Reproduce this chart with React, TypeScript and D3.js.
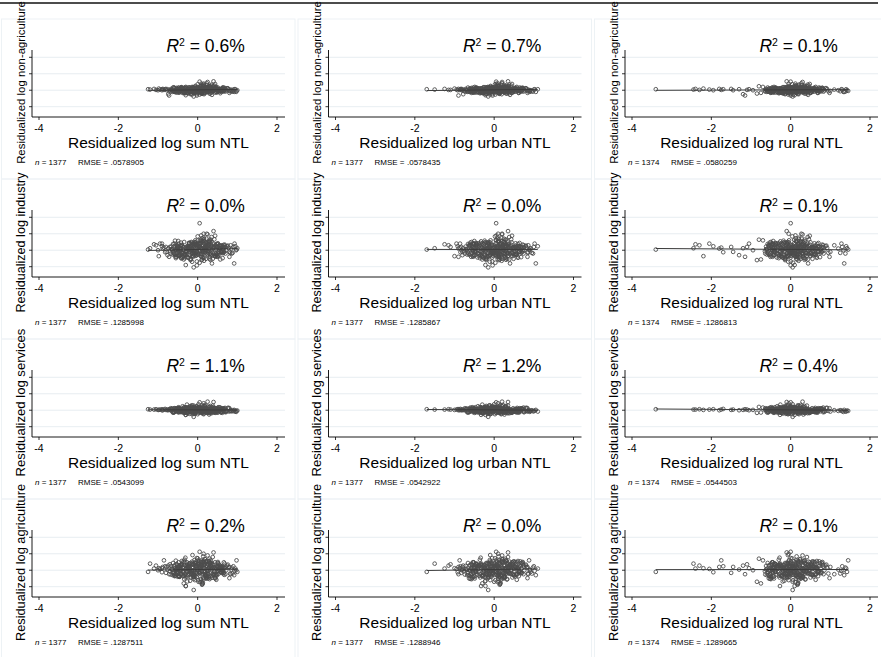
import React from "react";
import * as d3 from "d3";

// axis ticks (y tick labels are suppressed in the original)
const X_TICKS = [-4, -2, 0, 2];
const Y_TICKS = [-0.5, 0, 0.5, 1];

const X_TITLES = ["Residualized log sum NTL", "Residualized log urban NTL", "Residualized log rural NTL"];
const Y_TITLES = [
  "Residualized log non-agriculture",
  "Residualized log industry",
  "Residualized log services",
  "Residualized log agriculture",
];
const Y_TITLE_SIZE = [11.4, 12.6, 13.1, 12.8];

const R2 = [
  ["0.6", "0.7", "0.1"],
  ["0.0", "0.0", "0.1"],
  ["1.1", "1.2", "0.4"],
  ["0.2", "0.0", "0.1"],
];
const N_OBS = [1377, 1377, 1374];
const RMSE = [
  [".0578905", ".0578435", ".0580259"],
  [".1285998", ".1285867", ".1286813"],
  [".0543099", ".0542922", ".0544503"],
  [".1287511", ".1288946", ".1289665"],
];

// residualized regressors (one value per district)
const SUM_NTL = [
  .05,-.12,.21,-.03,.33,-.25,.1,.02,-.18,.27,-.08,.15,-.31,.4,.07,-.14,.24,-.01,.12,-.22,
  .3,-.06,.18,-.36,.09,.01,-.2,.36,-.1,.14,.22,-.28,.04,-.15,.29,.11,-.04,.19,-.33,.08,
  -.24,.25,.0,-.09,.34,.16,-.19,.06,.42,-.13,.2,-.27,.13,-.02,.31,-.16,.09,.23,-.38,.03,
  .17,-.07,.28,-.21,.11,.38,-.11,.05,-.3,.26,.14,-.05,.19,-.17,.35,-.26,.02,.24,-.1,.15,
  .07,-.34,.3,-.02,.2,-.14,.12,.44,-.23,.0,.27,-.08,.16,-.29,.06,.32,-.12,.22,-.04,.1,
  -.45,.52,-.58,.61,-.4,.48,-.66,.7,-.5,.56,-.43,.64,-.62,.46,-.54,.74,-.47,.58,-.7,.5,
  .66,-.41,.54,-.6,.78,-.52,.44,-.65,.6,-.48,.72,-.56,.49,-.44,.68,-.63,.55,-.5,.82,-.42,
  .47,-.68,.62,-.46,.57,-.55,.76,-.61,.51,-.49,.65,-.57,.45,-.64,.7,-.53,.59,-.43,.8,-.67,
  -1.25,-1.2,-1.1,-1.05,-.98,-.95,-.9,-.88,-.85,-.82,-.8,-.78,-.76,-.74,-.72,-.7,-.9,-1.0,
  .85,.88,.9,.92,.95,.98,1.0,.86,.83,.8,.93,.97,
  .05,.1,.3,-.35,.0,.25,-.1,.4,-.3,.15,
  -.52,.33,-.08,.6,-.27,.12,-.44,.45,.0,-.16,.53,-.35,.22,-.6,.38,-.05,.67,-.21,.09,-.48,
  .28,-.13,.5,-.38,.17,-.02,.62,-.3,.06,-.55,.41,-.19,.25,-.42,.14,-.1,.57,-.25,.34,-.47,
  .03,.48,-.33,.2,-.57,.1,.36,-.12,.64,-.4,.26,-.23,.43,-.07,.15,-.5,.31,-.29,.55,-.15,
  .08,-.45,.39,-.18,.59,-.36,.19,-.03,.47,-.24,.11,-.53,.29,-.09,.65,-.31,.23,-.41,.04,.52,
  -.2,.35,-.58,.13,-.06,.44,-.34,.27,-.14,.61,-.43,.18,-.01,.5,-.26,.07,-.49,.37,-.11,.24,
  .58,-.37,.16,-.22,.42,-.04,.3,-.54,.21,-.17,.56,-.28,.01,-.46,.4,-.09,.66,-.32,.12,-.39,
  .32,-.15,.49,-.51,.05,.26,-.24,.63,-.07,.18,-.44,.35,-.3,.1,-.56,.46,-.12,.22,-.36,.54,
  -.02,.4,-.21,.6,-.48,.14,-.1,.33,-.41,.02,.51,-.27,.19,-.59,.29,-.16,.45,-.05,.69,-.33,
];
const URBAN_NTL = [
  .08,-.15,.24,-.01,.3,-.28,.13,.0,-.2,.31,-.05,.18,-.34,.37,.04,-.11,.27,-.03,.15,-.25,
  .33,-.09,.2,-.39,.06,.03,-.17,.4,-.13,.11,.25,-.31,.07,-.18,.26,.14,-.06,.22,-.36,.1,
  -.27,.28,.02,-.07,.36,.19,-.22,.09,.43,-.1,.17,-.3,.16,-.04,.34,-.19,.12,.2,-.41,.05,
  .14,-.1,.31,-.24,.08,.35,-.14,.03,-.33,.29,.11,-.02,.21,-.2,.38,-.23,.0,.27,-.12,.18,
  .04,-.37,.33,-.05,.23,-.16,.15,.45,-.26,.02,.24,-.11,.13,-.32,.09,.3,-.15,.25,-.07,.13,
  -.5,.55,-.62,.64,-.44,.5,-.72,.75,-.54,.6,-.47,.68,-.66,.48,-.58,.8,-.5,.62,-.76,.53,
  .7,-.45,.57,-.64,.82,-.56,.46,-.7,.63,-.52,.76,-.6,.52,-.48,.72,-.68,.58,-.54,.85,-.46,
  .5,-.74,.66,-.5,.6,-.6,.8,-.66,.54,-.53,.69,-.62,.48,-.69,.74,-.57,.63,-.47,.84,-.72,
  -1.7,-1.5,-1.25,-1.15,-1.0,-.95,-.92,-.9,-.87,-.85,-.83,-.8,-.8,-.78,-.9,-1.1,-.86,-.82,
  .9,.95,1.0,1.05,1.1,.88,.92,.98,.86,.84,1.02,.9,
  .05,.12,.28,-.3,.05,.2,-.15,.35,-.22,.1,
  .36,-.5,.14,-.22,.58,-.05,.29,-.63,.45,-.14,.07,-.38,.66,-.27,.2,-.1,.51,-.46,.32,.0,
  -.58,.24,-.17,.62,-.33,.11,.42,-.08,-.52,.3,.17,-.41,.55,-.2,.03,-.6,.38,-.12,.7,-.29,
  .1,-.45,.27,.48,-.24,.06,-.55,.35,-.03,.6,-.36,.19,-.15,.44,-.48,.13,.68,-.31,.22,-.07,
  -.4,.52,-.19,.09,-.62,.39,.01,-.26,.57,-.11,.25,-.53,.47,-.04,.16,-.35,.64,-.21,.31,-.47,
  .05,.41,-.3,.72,-.16,.12,-.57,.34,-.09,.53,-.42,.21,-.02,.6,-.25,.08,-.5,.43,-.13,.28,
  -.37,.19,.55,-.06,.33,-.6,.15,-.28,.49,-.18,.02,.64,-.44,.26,-.1,.38,-.54,.11,-.23,.46,
  .23,-.32,.59,-.12,.04,-.49,.37,-.2,.14,.67,-.39,.09,-.05,.5,-.58,.3,-.15,.42,-.27,.18,
  -.08,.56,-.34,.12,-.43,.27,.74,-.22,.06,-.52,.35,-.01,.62,-.3,.2,-.46,.09,.48,-.17,.39,
];
const RURAL_NTL = [
  .1,-.08,.26,.02,.35,-.2,.16,.05,-.14,.33,-.02,.21,-.28,.42,.09,-.06,.3,.01,.18,-.18,
  .38,-.04,.24,-.32,.12,.06,-.12,.44,-.09,.15,.28,-.24,.08,-.1,.32,.17,-.01,.25,-.3,.13,
  -.22,.31,.04,-.03,.4,.2,-.16,.11,.46,-.07,.23,-.26,.19,.0,.36,-.13,.14,.27,-.34,.07,
  .2,-.05,.34,-.17,.13,.41,-.08,.06,-.27,.3,.17,.01,.24,-.14,.43,-.2,.05,.29,-.06,.19,
  .09,-.3,.37,.0,.26,-.1,.18,.48,-.19,.03,.3,-.04,.2,-.25,.12,.35,-.09,.28,.0,.15,
  -.45,.6,-.55,.7,-.4,.55,-.62,.82,-.5,.64,-.42,.75,-.58,.52,-.48,.88,-.44,.66,-.65,.58,
  .78,-.38,.62,-.56,.92,-.5,.5,-.6,.7,-.46,.85,-.52,.56,-.4,.8,-.6,.63,-.47,.95,-.39,
  .55,-.64,.72,-.43,.66,-.5,.9,-.58,.6,-.45,.76,-.54,.52,-.6,.83,-.48,.68,-.41,.98,-.62,
  -3.4,-2.45,-2.4,-2.3,-2.2,-2.05,-1.95,-1.8,-1.75,-1.7,-1.5,-1.45,-1.3,-1.2,-1.15,-1.1,-1.05,-.95,
  1.2,1.25,1.3,1.35,1.4,1.45,1.42,1.38,1.1,1.0,1.28,1.33,
  .0,-.85,-.8,-.75,-.7,.3,.05,-.1,.1,-.05,
  .4,-.42,.18,-.15,.62,.0,.33,-.55,.5,-.08,.12,-.3,.72,-.2,.25,-.04,.56,-.38,.37,.05,
  -.5,.29,-.1,.68,-.26,.16,.47,-.02,-.45,.35,.22,-.33,.6,-.14,.08,-.52,.43,-.06,.78,-.22,
  .15,-.38,.32,.54,-.18,.11,-.48,.4,.02,.66,-.29,.24,-.09,.5,-.41,.18,.74,-.24,.27,-.01,
  -.33,.58,-.13,.14,-.56,.45,.06,-.2,.63,-.05,.3,-.46,.53,.01,.21,-.28,.7,-.15,.36,-.4,
  .1,.46,-.23,.8,-.1,.17,-.5,.39,-.03,.59,-.35,.26,.03,.67,-.19,.13,-.44,.49,-.07,.33,
  -.3,.24,.61,.0,.38,-.53,.2,-.22,.55,-.12,.07,.71,-.37,.31,-.04,.44,-.47,.16,-.17,.52,
  .28,-.26,.65,-.06,.09,-.42,.42,-.14,.19,.75,-.32,.14,.01,.57,-.51,.35,-.09,.48,-.21,.23,
  -.02,.62,-.28,.17,-.36,.32,.82,-.16,.11,-.45,.4,.04,.69,-.24,.25,-.39,.14,.54,-.11,.45,
];

// residualized outcomes, same districts
const NON_AGRI = [
  .04,-.07,.1,-.03,.14,-.09,.01,.08,-.12,.05,-.04,.17,-.08,.12,.0,-.13,.06,.03,-.05,.09,
  -.1,.13,-.01,.05,.2,-.06,.03,-.14,.08,.0,.16,-.08,.04,-.04,.1,-.11,.06,.01,-.09,.13,
  .03,-.05,.18,-.03,.08,-.12,.04,.0,.14,-.06,.09,-.01,.05,-.16,.12,.03,-.08,.21,-.04,.06,
  -.09,.1,.01,-.05,.15,-.03,.08,-.13,.04,.0,.12,-.07,.05,-.1,.17,.01,-.04,.09,-.08,.03,
  .13,-.05,.06,-.12,.0,.1,-.03,.19,-.09,.04,.08,-.07,.14,-.01,.05,-.1,.09,.0,-.04,.12,
  .03,-.04,.05,-.02,.07,-.05,.01,.04,-.07,.02,.0,-.03,.08,-.04,.01,.06,-.06,.03,-.01,.04,
  -.03,.07,.0,-.04,.03,.05,-.07,.01,-.03,.08,.0,-.04,.04,-.01,.07,-.05,.03,.0,-.03,.05,
  .01,-.04,.04,-.07,.03,.0,.06,-.03,.08,-.01,.01,-.05,.04,.0,-.04,.07,-.01,.03,-.08,.04,
  .03,.02,.04,.01,.05,.02,.0,.04,.01,.03,.04,.0,.03,-.12,-.16,.01,.03,.0,
  .0,-.03,.02,-.05,.03,-.02,.0,-.04,.02,-.02,.03,-.05,
  .26,-.1,.12,-.08,.1,.25,-.19,.27,-.15,.2,
  .02,-.03,.06,-.05,.01,.08,-.02,.04,-.07,.03,.0,.05,-.04,.09,-.01,-.06,.03,.07,-.03,.01,
  -.05,.04,.02,-.08,.06,-.01,.03,.1,-.04,.0,.05,-.06,.02,.07,-.03,.04,-.09,.01,.06,-.02,
  .03,-.07,.08,.0,-.04,.05,.01,-.05,.09,-.02,.04,-.03,.06,-.08,.02,.0,.07,-.04,.03,-.01,
  -.06,.05,-.02,.08,.01,-.05,.04,-.03,.1,.0,-.07,.03,.05,-.02,.06,-.04,.01,.09,-.06,.02,
  .04,-.01,-.05,.07,.0,.03,-.08,.05,-.03,.06,.01,-.04,.08,-.02,.02,-.06,.04,.0,.07,-.05,
  -.02,.06,.03,-.04,.09,-.01,.05,-.07,.02,.04,-.03,.08,.0,-.05,.03,.06,-.02,.01,-.09,.05,
  .07,-.03,.01,.04,-.06,.1,-.01,.03,-.04,.05,.02,-.07,.06,.0,-.02,.08,-.05,.03,.04,-.03,
  .0,.05,-.06,.02,.07,-.04,.03,-.01,.09,-.05,.04,.01,-.08,.06,-.02,.03,.05,-.03,.0,.07,
];
const INDUSTRY = [
  .1,-.18,.25,-.05,.32,-.22,.04,.15,-.3,.12,-.08,.38,-.15,.2,-.02,-.35,.14,.06,-.12,.22,
  -.26,.3,-.04,.1,.45,-.14,.05,-.4,.18,.0,.35,-.2,.08,-.1,.24,-.28,.16,.02,-.24,.28,
  .06,-.12,.42,-.06,.17,-.32,.09,-.01,.33,-.16,.21,-.03,.12,-.46,.27,.04,-.2,.5,-.09,.13,
  -.22,.24,.03,-.13,.36,-.07,.19,-.38,.08,-.02,.29,-.17,.11,-.27,.4,.02,-.1,.2,-.19,.07,
  .31,-.12,.15,-.34,.0,.23,-.06,.44,-.23,.09,.18,-.15,.34,-.04,.12,-.29,.21,.01,-.09,.26,
  .06,-.1,.13,-.04,.16,-.13,.03,.1,-.16,.05,.0,-.07,.19,-.1,.03,.12,-.14,.07,-.03,.1,
  -.06,.15,.01,-.11,.07,.13,-.18,.04,-.06,.2,.0,-.1,.09,-.03,.17,-.13,.06,.01,-.08,.12,
  .03,-.1,.1,-.17,.06,.0,.14,-.07,.21,-.02,.04,-.14,.09,.01,-.1,.16,-.04,.07,-.2,.11,
  .02,.06,.18,.15,-.18,.2,.12,.05,.08,-.06,.1,-.05,-.15,.06,-.2,.1,.2,.0,
  .05,-.08,.1,-.4,.12,.02,.06,-.1,.15,-.05,.2,.0,
  .82,-.3,.32,-.28,.3,.48,-.52,.58,-.45,.5,
  .08,-.14,.2,-.06,.12,-.22,.03,.16,-.1,.25,-.02,-.18,.1,.05,-.26,.14,-.04,.22,-.12,.0,
  .18,-.08,-.2,.12,.27,-.15,.04,-.05,.2,-.24,.09,.01,-.13,.23,-.07,.15,-.28,.06,.1,-.17,
  -.03,.19,-.11,.07,.29,-.19,.02,.13,-.09,-.23,.17,.04,-.16,.24,-.05,.11,-.21,.08,.15,-.01,
  .21,-.12,.06,-.27,.14,.0,-.07,.18,-.14,.1,.26,-.2,.03,-.1,.16,-.04,.22,-.25,.09,-.06,
  -.15,.12,.2,-.03,.07,-.18,.25,-.09,.02,.14,-.22,.11,-.05,.19,-.13,.06,.28,-.16,.0,.1,
  .13,-.21,.05,.17,-.08,.23,-.11,.01,-.26,.15,.08,-.04,.2,-.17,.12,-.02,.09,-.14,.24,-.07,
  -.1,.16,-.19,.04,.21,-.06,.11,-.24,.18,.0,-.12,.26,-.03,.07,-.2,.13,-.09,.17,.02,-.15,
  .06,-.13,.22,-.05,.1,-.23,.15,.03,-.08,.19,-.17,.05,.12,-.1,.27,-.01,-.19,.08,.14,-.11,
];
const SERVICES = [
  -.03,.06,-.08,.11,.02,-.1,.07,-.01,.13,-.05,.04,-.12,.09,.0,-.06,.15,-.02,.05,-.09,.1,
  .01,-.04,.12,-.07,.03,.08,-.11,.0,.14,-.03,.06,-.08,.1,.02,-.13,.07,-.02,.16,-.05,.04,
  -.07,.11,.0,-.1,.05,.13,-.04,.08,-.01,-.12,.06,.17,-.06,.02,-.09,.1,.03,-.03,.12,-.08,
  .05,-.11,.09,.01,-.05,.14,-.02,.07,-.14,.03,.11,-.06,.0,.08,-.09,.04,.18,-.03,.06,-.1,
  -.01,.09,-.07,.12,.02,-.04,.15,-.08,.05,-.12,.01,.1,-.05,.07,-.02,.13,-.09,.03,.0,-.06,
  -.02,.04,-.05,.06,.01,-.04,.03,-.06,.07,.0,-.03,.05,-.07,.02,.04,-.02,.06,-.05,.01,-.03,
  .05,-.01,.03,-.06,.07,.0,-.04,.04,-.02,.06,-.05,.02,.0,-.03,.05,-.06,.01,.04,-.02,.03,
  -.04,.06,.0,-.05,.03,-.01,.07,-.03,.02,-.06,.04,.01,-.04,.05,-.02,.03,-.07,.02,.06,-.01,
  .03,.02,.02,.03,.01,.02,.03,.0,.02,.04,.01,.02,.0,.01,.03,.02,.0,.01,
  -.02,.0,-.03,.01,-.04,-.02,-.01,-.03,.0,-.04,-.01,-.05,
  .24,-.08,.1,-.07,.08,.26,-.2,.25,-.14,.21,
  -.01,.04,-.05,.02,.07,-.03,.0,.05,-.06,.03,.08,-.02,.01,-.07,.04,.06,-.04,.02,-.01,.09,
  .03,-.05,.06,.0,-.03,.04,-.08,.05,.01,-.02,.07,-.04,.03,-.06,.02,.08,-.01,-.05,.04,.0,
  .05,-.02,-.07,.06,.01,-.04,.09,-.03,.02,.04,-.06,.0,.07,-.01,-.05,.03,.05,-.08,.02,.06,
  -.03,.01,.08,-.05,.04,-.02,.0,.06,-.07,.03,.05,-.01,-.04,.07,.02,-.06,.04,.01,-.03,.09,
  .0,-.04,.06,.02,-.08,.05,-.01,.03,.07,-.05,.01,.04,-.02,-.06,.08,.0,.03,-.03,.05,-.07,
  .04,.02,-.05,.07,-.01,.03,-.06,.06,.0,-.04,.09,-.02,.01,.05,-.07,.03,-.03,.06,.02,-.05,
  -.02,.07,.01,-.04,.05,-.08,.03,.0,.06,-.03,.04,-.06,.08,.01,-.02,.05,-.05,.02,.07,-.01,
  .06,-.03,.0,.04,-.06,.02,.08,-.04,.03,-.01,-.07,.05,.01,.06,-.03,.04,-.05,.0,.07,-.02,
];
const AGRI = [
  -.08,.2,-.25,.12,.3,-.15,.05,-.35,.22,-.02,.14,-.28,.38,-.1,.08,.26,-.2,.02,-.4,.16,
  .1,-.18,.34,-.06,.24,-.3,.0,.18,-.12,.42,-.22,.06,.28,-.14,.04,-.44,.2,-.04,.32,-.26,
  .12,-.08,.36,-.2,.07,.25,-.32,.1,-.02,.46,-.16,.15,-.38,.03,.22,-.1,.3,-.24,.09,-.05,
  .18,-.3,.27,-.12,.0,.4,-.18,.13,-.48,.06,.23,-.08,.33,-.22,.11,-.34,.2,.02,-.14,.29,
  -.06,.16,-.27,.37,-.1,.08,-.42,.24,-.02,.14,-.2,.31,-.12,.05,-.36,.21,.1,-.16,.26,-.04,
  .08,-.12,.15,-.05,.2,-.16,.02,.11,-.2,.06,.0,-.09,.22,-.13,.04,.14,-.18,.09,-.03,.12,
  -.08,.18,.01,-.14,.09,.16,-.22,.05,-.07,.24,.0,-.12,.11,-.04,.2,-.15,.07,.02,-.1,.14,
  .04,-.13,.12,-.2,.07,.0,.17,-.09,.25,-.03,.05,-.17,.1,.01,-.12,.19,-.05,.08,-.24,.13,
  -.05,.2,.05,.14,.06,.04,-.06,.1,.3,.12,-.08,.1,.02,.14,-.12,.18,.06,.0,
  .02,-.1,.12,-.15,.05,.3,-.05,.08,-.12,.1,-.02,.0,
  .56,-.35,.35,-.4,.3,.45,-.6,.54,-.48,.5,
  -.06,.15,-.2,.09,.24,-.12,.03,-.25,.18,-.01,.11,-.17,.27,-.08,.05,.2,-.14,.0,-.28,.13,
  .07,-.1,.22,-.04,.16,-.21,.02,.12,-.09,.29,-.15,.04,.19,-.11,.08,-.26,.14,-.03,.23,-.18,
  .1,-.05,.25,-.13,.06,.17,-.23,.08,-.02,.28,-.12,.11,-.24,.01,.15,-.07,.21,-.16,.05,-.03,
  .13,-.19,.18,-.08,.0,.26,-.14,.09,-.29,.04,.16,-.06,.23,-.15,.08,-.22,.14,.02,-.1,.2,
  -.04,.11,-.18,.25,-.07,.06,-.27,.17,-.01,.1,-.13,.22,-.09,.03,-.2,.15,.07,-.11,.19,-.02,
  .12,-.16,.06,.21,-.05,.14,-.22,.02,.27,-.1,.08,-.03,.18,-.19,.1,-.07,.24,-.14,.05,.16,
  -.09,.2,-.12,.03,.13,-.25,.09,.0,.22,-.06,.15,-.17,.04,.26,-.11,.07,-.2,.12,-.04,.17,
  .01,-.14,.19,-.08,.1,-.23,.16,.05,-.13,.24,-.02,.09,-.18,.11,.28,-.05,-.16,.14,.06,-.1,
];

const X_SERIES = [SUM_NTL, URBAN_NTL, RURAL_NTL];
const Y_SERIES = [NON_AGRI, INDUSTRY, SERVICES, AGRI];

const W = 881;
const H = 657;
const COL_W = 296.5;
const ROW_H = 160;
const FONT = "'Liberation Sans', Arial, Helvetica, sans-serif";

// plot region inside one panel
const PLOT = { left: 32, right: 285, top: 50, bottom: 117 };

const Panel = ({ r, c }: { r: number; c: number }) => {
  const xs = X_SERIES[c];
  const ys = Y_SERIES[r];
  const n = Math.min(xs.length, ys.length);
  const pts = d3.range(n).map((i) => [xs[i], ys[i]]);

  const x = d3.scaleLinear().domain([-4, 2]).range([39, 277]);
  const y = d3.scaleLinear().domain([-0.5, 1]).range([106.7, 57.3]);

  // linear fit (lfit)
  const mx = d3.mean(pts, (d) => d[0]) as number;
  const my = d3.mean(pts, (d) => d[1]) as number;
  const b =
    d3.sum(pts, (d) => (d[0] - mx) * (d[1] - my)) / d3.sum(pts, (d) => (d[0] - mx) ** 2);
  const a = my - b * mx;
  const [x0, x1] = d3.extent(pts, (d) => d[0]) as [number, number];
  const fitPath = d3.line()([
    [x(x0), y(a + b * x0)],
    [x(x1), y(a + b * x1)],
  ]) as string;

  const cy = (PLOT.top + PLOT.bottom) / 2;

  return (
    <g transform={`translate(${c * COL_W},${r * ROW_H})`}>
      <rect x={1.5} y={19} width={293.5} height={ROW_H} fill="none" stroke="#edf2f5" strokeWidth={1} />

      {Y_TICKS.map((t) => (
        <g key={t}>
          <line x1={PLOT.left} x2={PLOT.right} y1={y(t)} y2={y(t)} stroke="#e1e9ed" strokeWidth={0.8} />
          <line x1={PLOT.left - 3} x2={PLOT.left} y1={y(t)} y2={y(t)} stroke="#000" strokeWidth={0.8} />
        </g>
      ))}

      <g fill="none" stroke="#4d4d4d" strokeWidth={0.9}>
        {pts.map((d, i) => (
          <circle key={i} cx={x(d[0])} cy={y(d[1])} r={1.85} />
        ))}
      </g>
      <path d={fitPath} stroke="#3a3a3a" strokeWidth={1} fill="none" />

      <line x1={PLOT.left} x2={PLOT.left} y1={PLOT.top} y2={PLOT.bottom} stroke="#000" strokeWidth={0.9} />
      <line x1={PLOT.left} x2={PLOT.right} y1={PLOT.bottom} y2={PLOT.bottom} stroke="#000" strokeWidth={0.9} />
      {X_TICKS.map((t) => (
        <g key={t}>
          <line x1={x(t)} x2={x(t)} y1={PLOT.bottom} y2={PLOT.bottom + 3} stroke="#000" strokeWidth={0.8} />
          <text x={x(t)} y={132} textAnchor="middle" fontSize={10.5} fontFamily={FONT} fill="#000">
            {t < 0 ? `-${Math.abs(t)}` : t}
          </text>
        </g>
      ))}

      <text x={(PLOT.left + PLOT.right) / 2} y={148} textAnchor="middle" fontSize={15.5} fontFamily={FONT} fill="#000">
        {X_TITLES[c]}
      </text>

      <text
        transform={`translate(24.5,${cy - 1}) rotate(-90)`}
        textAnchor="middle"
        fontSize={Y_TITLE_SIZE[r]}
        fontFamily={FONT}
        fill="#000"
      >
        {Y_TITLES[r]}
      </text>

      <text x={x(0.2)} y={y(1.16)} textAnchor="middle" fontSize={17.5} fontFamily={FONT} fill="#000">
        <tspan fontStyle="italic">R</tspan>
        <tspan fontSize="60%" dy={-6.5}>2</tspan>
        <tspan dy={6.5}>{` = ${R2[r][c]}%`}</tspan>
      </text>

      <g fontSize={8} fontFamily={FONT} fill="#000">
        <text x={35} y={164.5}>
          <tspan fontStyle="italic">n</tspan>
          {` = ${N_OBS[c]}`}
        </text>
        <text x={78} y={164.5}>RMSE =</text>
        <text x={110.5} y={164.5}>{RMSE[r][c]}</text>
      </g>
    </g>
  );
};

export default function App() {
  return (
    <svg
      width={W}
      height={H}
      viewBox={`0 0 ${W} ${H}`}
      style={{ position: "absolute", left: 0, top: 0, display: "block", background: "#fff" }}
    >
      <rect width={W} height={H} fill="#fff" />
      {Y_SERIES.map((_, r) => X_SERIES.map((__, c) => <Panel key={`${r}-${c}`} r={r} c={c} />))}
      <line x1={0} x2={878} y1={3} y2={3} stroke="#111" strokeWidth={1.6} />
    </svg>
  );
}
